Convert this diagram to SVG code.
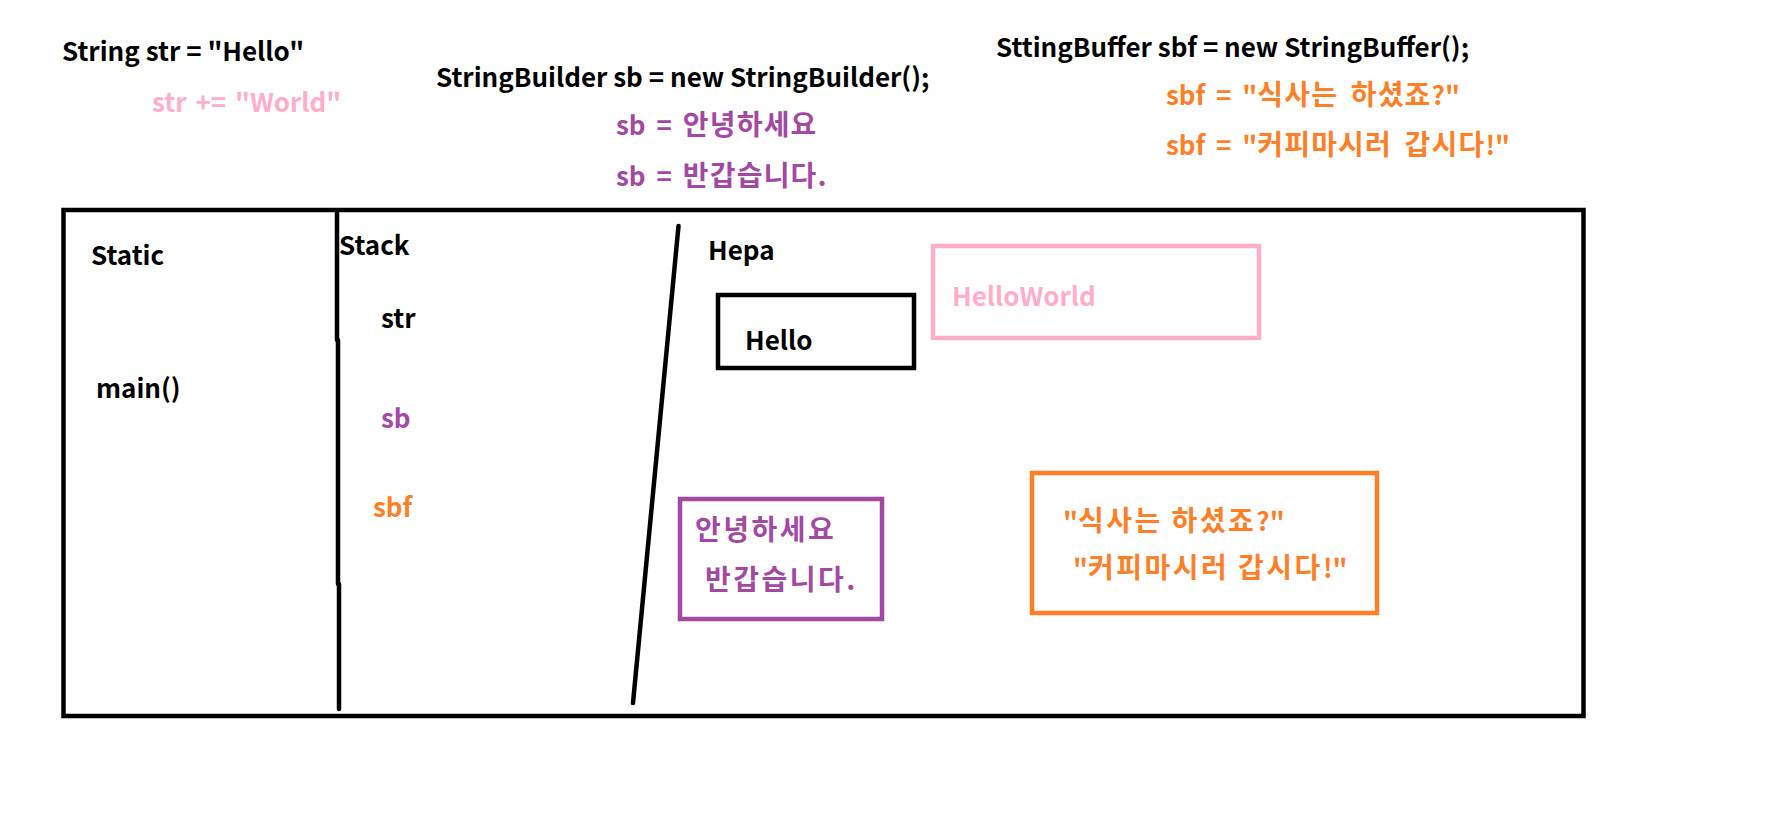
<svg xmlns="http://www.w3.org/2000/svg" width="1779" height="815" viewBox="0 0 1779 815">
<style>
text{font-family:"Noto Sans CJK KR","Liberation Sans",sans-serif;font-weight:bold;font-size:26px}
.h{font-size:28px;letter-spacing:1.2px}
.w{word-spacing:5px}
.k{fill:#000}
.pk{fill:#FFAEC9}
.pu{fill:#A349A4}
.or{fill:#FF7F27}
.box{fill:none;stroke-width:4.5}
.ln{stroke:#000;stroke-width:4.5;fill:none;stroke-linecap:round}
</style>
<rect width="1779" height="815" fill="#fff"/>
<g id="code-string">
<text class="k" x="62" y="61">String str = "Hello"</text>
<text class="pk" x="152" y="112" word-spacing="3">str += "World"</text>
</g>
<g id="code-builder">
<text class="k" x="436" y="87">StringBuilder sb = new StringBuilder();</text>
<text class="pu w" x="616" y="135">sb = <tspan class="h">안녕하세요</tspan></text>
<text class="pu w" x="616" y="186">sb = <tspan class="h">반갑습니다.</tspan></text>
</g>
<g id="code-buffer">
<text class="k" x="996" y="57">SttingBuffer sbf = new StringBuffer();</text>
<text class="or w" x="1166" y="105">sbf = "<tspan class="h">식사는 하셨죠</tspan>?"</text>
<text class="or w" x="1166" y="155">sbf = "<tspan class="h">커피마시러 갑시다</tspan>!"</text>
</g>
<g id="memory">
<rect class="box" x="63.5" y="210" width="1520" height="506" stroke="#000"/>
</g>
<g id="dividers">
<path class="ln" d="M337 213 L337 340 M338 340 L338 584 M339 584 L339 709"/>
<path class="ln" d="M678.5 226 L633 703"/>
</g>
<g id="static">
<text class="k" x="91" y="265">Static</text>
<text class="k" x="96" y="398">main()</text>
</g>
<g id="stack">
<text class="k" x="339" y="255">Stack</text>
<text class="k" x="381" y="328">str</text>
<text class="pu" x="381" y="428">sb</text>
<text class="or" x="373" y="517">sbf</text>
</g>
<g id="heap-label">
<text class="k" x="708" y="260">Hepa</text>
</g>
<g id="hello">
<rect class="box" x="718" y="295" width="196" height="73" stroke="#000"/>
<text class="k" x="745" y="350">Hello</text>
</g>
<g id="helloworld">
<rect class="box" x="933" y="246" width="326" height="92" stroke="#FFAEC9"/>
<text class="pk" x="952" y="306">HelloWorld</text>
</g>
<g id="sb-value">
<rect class="box" x="680" y="499" width="202" height="120" stroke="#A349A4"/>
<text class="pu" x="695" y="540"><tspan class="h" style="letter-spacing:2.5px">안녕하세요</tspan></text>
<text class="pu" x="705" y="590"><tspan class="h" style="letter-spacing:2.5px">반갑습니다.</tspan></text>
</g>
<g id="sbf-value">
<rect class="box" x="1032" y="473" width="345" height="140" stroke="#FF7F27"/>
<text class="or" x="1063" y="531">"<tspan class="h" style="letter-spacing:2.5px">식사는 하셨죠</tspan>?"</text>
<text class="or" x="1073" y="578">"<tspan class="h" style="letter-spacing:2.5px">커피마시러 갑시다</tspan>!"</text>
</g>
</svg>
